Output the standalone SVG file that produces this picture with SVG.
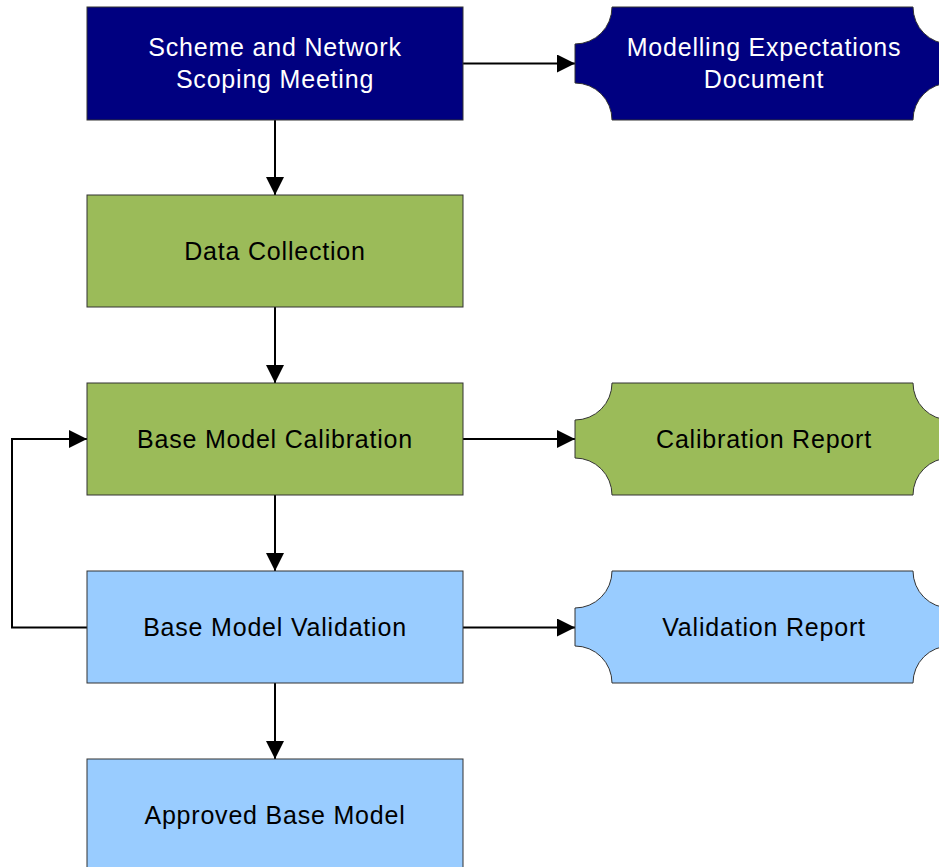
<svg xmlns="http://www.w3.org/2000/svg" width="939" height="867" viewBox="0 0 939 867">
<defs>
<style>
.box{stroke:#333;stroke-width:1}
.navy{fill:#000080}
.green{fill:#9BBB59}
.blue{fill:#99CCFF}
.t{font-family:"Liberation Sans",Arial,sans-serif;font-size:25px;letter-spacing:0.8px;text-anchor:middle;dominant-baseline:central}
.w{fill:#fff}
.k{fill:#000}
.c{fill:none;stroke:#000;stroke-width:2}
</style>
<marker id="ah" viewBox="0 0 18 18" refX="18" refY="9" markerWidth="18" markerHeight="18" markerUnits="userSpaceOnUse" orient="auto">
<path d="M0,0 L18,9 L0,18 Z" fill="#000"/>
</marker>
</defs>
<rect width="939" height="867" fill="#fff"/>
<g id="connectors">
<line class="c" x1="463" y1="63.5" x2="575" y2="63.5" marker-end="url(#ah)"/>
<line class="c" x1="275" y1="120" x2="275" y2="195" marker-end="url(#ah)"/>
<line class="c" x1="275" y1="307" x2="275" y2="383" marker-end="url(#ah)"/>
<line class="c" x1="463" y1="439" x2="575" y2="439" marker-end="url(#ah)"/>
<line class="c" x1="275" y1="495" x2="275" y2="571" marker-end="url(#ah)"/>
<line class="c" x1="463" y1="627.5" x2="575" y2="627.5" marker-end="url(#ah)"/>
<line class="c" x1="275" y1="683" x2="275" y2="759" marker-end="url(#ah)"/>
<polyline class="c" points="87,627.5 12,627.5 12,439 87,439" marker-end="url(#ah)"/>
</g>
<g id="scoping">
<rect class="box navy" x="87" y="7" width="376" height="113"/>
<text class="t w" x="275" y="47">Scheme and Network</text>
<text class="t w" x="275" y="79">Scoping Meeting</text>
</g>
<g id="expectations">
<path class="box navy" d="M612,7 L913,7 A37,37 0 0 0 950,44 L950,83 A37,37 0 0 0 913,120 L612,120 A37,37 0 0 0 575,83 L575,44 A37,37 0 0 0 612,7 Z"/>
<text class="t w" x="764" y="47">Modelling Expectations</text>
<text class="t w" x="764" y="79">Document</text>
</g>
<g id="data">
<rect class="box green" x="87" y="195" width="376" height="112"/>
<text class="t k" x="275" y="251">Data Collection</text>
</g>
<g id="calibration">
<rect class="box green" x="87" y="383" width="376" height="112"/>
<text class="t k" x="275" y="439">Base Model Calibration</text>
</g>
<g id="calreport">
<path class="box green" d="M612,383 L913,383 A37,37 0 0 0 950,420 L950,458 A37,37 0 0 0 913,495 L612,495 A37,37 0 0 0 575,458 L575,420 A37,37 0 0 0 612,383 Z"/>
<text class="t k" x="764" y="439">Calibration Report</text>
</g>
<g id="validation">
<rect class="box blue" x="87" y="571" width="376" height="112"/>
<text class="t k" x="275" y="627">Base Model Validation</text>
</g>
<g id="valreport">
<path class="box blue" d="M612,571 L913,571 A37,37 0 0 0 950,608 L950,646 A37,37 0 0 0 913,683 L612,683 A37,37 0 0 0 575,646 L575,608 A37,37 0 0 0 612,571 Z"/>
<text class="t k" x="764" y="627">Validation Report</text>
</g>
<g id="approved">
<rect class="box blue" x="87" y="759" width="376" height="112"/>
<text class="t k" x="275" y="815">Approved Base Model</text>
</g>
</svg>
